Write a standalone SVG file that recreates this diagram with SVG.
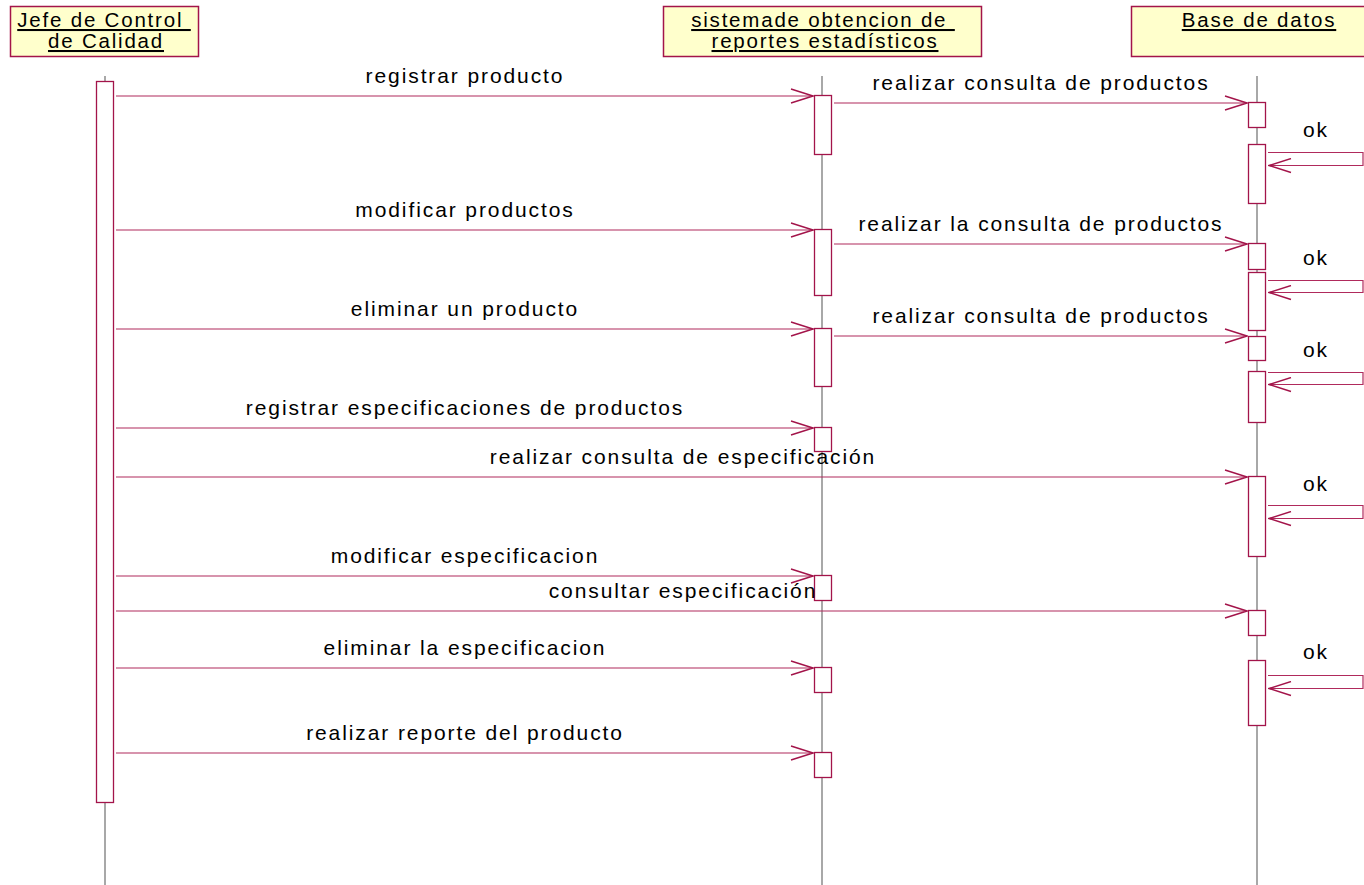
<svg xmlns="http://www.w3.org/2000/svg" width="1364" height="885" viewBox="0 0 1364 885">
  <defs>
    <style>
      .obj { fill: #ffffcc; stroke: #a3144a; stroke-width: 1.5; }
      .objtxt { font-family: "Liberation Sans", Arial, sans-serif; font-size: 20.5px; letter-spacing: 1.8px; text-decoration: underline; fill: #000; text-anchor: middle; }
      .life { stroke: #6e6e6e; stroke-width: 1.2; fill: none; }
      .act { fill: #ffffff; stroke: #a3144a; stroke-width: 1.3; }
      .msg { stroke: #b02a5c; stroke-width: 1.2; fill: none; }
      .head { stroke: #a3144a; stroke-width: 1.4; fill: none; }
      .lbl { font-family: "Liberation Sans", Arial, sans-serif; font-size: 21px; letter-spacing: 1.9px; fill: #000; text-anchor: middle; }
    </style>
    <marker id="open" viewBox="0 0 24 16" refX="23" refY="8" markerWidth="24" markerHeight="16" markerUnits="userSpaceOnUse" orient="auto">
      <path d="M1,1 L23,8 L1,15" class="head"/>
    </marker>
  </defs>

  <rect width="1364" height="885" fill="#ffffff"/>

  <!-- lifelines -->
  <g id="lifelines">
    <line class="life" x1="105" y1="76" x2="105" y2="885"/>
    <line class="life" x1="822" y1="76" x2="822" y2="885"/>
    <line class="life" x1="1257" y1="76" x2="1257" y2="885"/>
  </g>

  <!-- participant: Jefe de Control de Calidad -->
  <g id="jefe">
    <rect class="obj" x="10.5" y="6.5" width="188" height="50"/>
    <text class="objtxt" x="104" y="27" xml:space="preserve">Jefe de Control </text>
    <text class="objtxt" x="106" y="48">de Calidad</text>
    <rect class="act" x="96.5" y="81.5" width="17" height="721"/>
  </g>

  <!-- participant: sistema -->
  <g id="sistema">
    <rect class="obj" x="663.5" y="6.5" width="318" height="50"/>
    <text class="objtxt" x="823" y="27" xml:space="preserve">sistemade obtencion de </text>
    <text class="objtxt" x="825" y="48">reportes estadísticos</text>
    <rect class="act" x="814.5" y="95.5" width="17" height="59"/>
    <rect class="act" x="814.5" y="229.5" width="17" height="66"/>
    <rect class="act" x="814.5" y="328.5" width="17" height="58"/>
    <rect class="act" x="814.5" y="427.5" width="17" height="24"/>
    <rect class="act" x="814.5" y="575.5" width="17" height="25"/>
    <rect class="act" x="814.5" y="667.5" width="17" height="25"/>
    <rect class="act" x="814.5" y="752.5" width="17" height="25"/>
  </g>

  <!-- participant: Base de datos -->
  <g id="base">
    <rect class="obj" x="1131.5" y="6.5" width="240" height="50"/>
    <text class="objtxt" x="1259" y="27">Base de datos</text>
    <rect class="act" x="1248.5" y="102.5" width="17" height="25"/>
    <rect class="act" x="1248.5" y="144.5" width="17" height="59"/>
    <rect class="act" x="1248.5" y="243.5" width="17" height="26"/>
    <rect class="act" x="1248.5" y="272.5" width="17" height="58"/>
    <rect class="act" x="1248.5" y="336.5" width="17" height="24"/>
    <rect class="act" x="1248.5" y="371.5" width="17" height="51"/>
    <rect class="act" x="1248.5" y="476.5" width="17" height="80"/>
    <rect class="act" x="1248.5" y="610.5" width="17" height="25"/>
    <rect class="act" x="1248.5" y="660.5" width="17" height="65"/>
  </g>

  <!-- messages -->
  <g id="connectors">
    <line class="msg" x1="116" y1="96" x2="813" y2="96" marker-end="url(#open)"/>
    <line class="msg" x1="834" y1="103" x2="1247" y2="103" marker-end="url(#open)"/>
    <path class="msg" d="M1268,152.5 H1363 V165.5 H1269" marker-end="url(#open)"/>

    <line class="msg" x1="116" y1="230" x2="813" y2="230" marker-end="url(#open)"/>
    <line class="msg" x1="834" y1="244" x2="1247" y2="244" marker-end="url(#open)"/>
    <path class="msg" d="M1268,280.5 H1363 V292.5 H1269" marker-end="url(#open)"/>

    <line class="msg" x1="116" y1="329" x2="813" y2="329" marker-end="url(#open)"/>
    <line class="msg" x1="834" y1="336" x2="1247" y2="336" marker-end="url(#open)"/>
    <path class="msg" d="M1268,372.5 H1363 V384.5 H1269" marker-end="url(#open)"/>

    <line class="msg" x1="116" y1="428" x2="813" y2="428" marker-end="url(#open)"/>
    <line class="msg" x1="116" y1="477" x2="1247" y2="477" marker-end="url(#open)"/>
    <path class="msg" d="M1268,505.5 H1363 V518.5 H1269" marker-end="url(#open)"/>

    <line class="msg" x1="116" y1="576" x2="813" y2="576" marker-end="url(#open)"/>
    <line class="msg" x1="116" y1="611" x2="1247" y2="611" marker-end="url(#open)"/>
    <path class="msg" d="M1268,675.5 H1363 V688.5 H1269" marker-end="url(#open)"/>

    <line class="msg" x1="116" y1="668" x2="813" y2="668" marker-end="url(#open)"/>
    <line class="msg" x1="116" y1="753" x2="813" y2="753" marker-end="url(#open)"/>
  </g>

  <!-- message labels -->
  <g id="labels">
    <text class="lbl" x="465" y="83">registrar producto</text>
    <text class="lbl" x="1041" y="90">realizar consulta de productos</text>
    <text class="lbl" x="1316" y="137">ok</text>

    <text class="lbl" x="465" y="217">modificar productos</text>
    <text class="lbl" x="1041" y="231">realizar la consulta de productos</text>
    <text class="lbl" x="1316" y="265">ok</text>

    <text class="lbl" x="465" y="316">eliminar un producto</text>
    <text class="lbl" x="1041" y="323">realizar consulta de productos</text>
    <text class="lbl" x="1316" y="357">ok</text>

    <text class="lbl" x="465" y="415">registrar especificaciones de productos</text>
    <text class="lbl" x="683" y="464">realizar consulta de especificación</text>
    <text class="lbl" x="1316" y="491">ok</text>

    <text class="lbl" x="465" y="563">modificar especificacion</text>
    <text class="lbl" x="683" y="598">consultar especificación</text>
    <text class="lbl" x="1316" y="659">ok</text>

    <text class="lbl" x="465" y="655">eliminar la especificacion</text>
    <text class="lbl" x="465" y="740">realizar reporte del producto</text>
  </g>
</svg>
